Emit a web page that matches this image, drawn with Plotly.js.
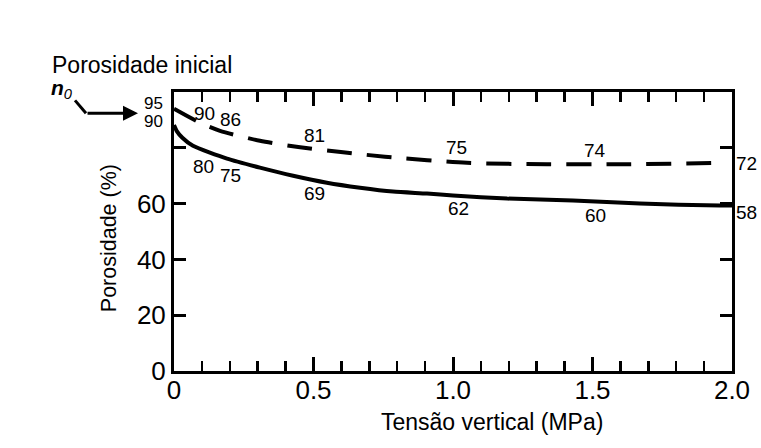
<!DOCTYPE html>
<html>
<head>
<meta charset="utf-8">
<script src="https://cdn.plot.ly/plotly-3.0.1.min.js"></script>
<style>html,body{margin:0;padding:0;background:#fff;}#chart{width:761px;height:448px;}</style>
</head>
<body>
<div id="chart"></div>
<script>
// Dashed curve (upper)
const dashedX = [0, 0.093, 0.165, 0.308, 0.452, 0.606, 0.756, 1.050, 1.337, 1.624, 1.957];
const dashedY = [94.0, 89.0, 86.1, 82.5, 80.2, 78.4, 76.8, 74.6, 74.1, 74.1, 74.6];
// Solid curve (lower)
const solidX = [0, 0.010, 0.030, 0.068, 0.190, 0.308, 0.427, 0.548, 0.667, 0.785, 0.907, 1.0, 1.194, 1.430, 1.670, 1.957, 2.0];
const solidY = [88.2, 86.0, 83.6, 80.7, 76.1, 72.9, 70.0, 67.5, 65.7, 64.3, 63.6, 62.9, 61.8, 61.1, 60.0, 59.3, 59.3];
// Value labels on curves (inside the plot)
const dashedLabels = ["90", "86", "81", "75", "74"];
const dashedLabelX = [0.111, 0.201, 0.505, 1.014, 1.509];
const dashedLabelY = [92.2, 90.1, 84.3, 80.0, 78.9];
const solidLabels = ["80", "75", "69", "62", "60"];
const solidLabelX = [0.104, 0.201, 0.505, 1.018, 1.509];
const solidLabelY = [73.2, 70.0, 63.6, 58.2, 55.7];
// Value labels outside the axes: start (left) and end (right) of each curve
const startLabels = ["95", "90"];
const startLabelY = [96.0, 89.6];
const endLabels = ["72", "58"];
const endLabelY = [74.3, 56.8];
// Ticks
const yTickVals = [0, 20, 40, 60, 80];
const yTickText = ["0", "20", "40", "60", ""];
const xTickVals = [0, 0.5, 1.0, 1.5, 2.0];
const xTickText = ["0", "0.5", "1.0", "1.5", "2.0"];

const FONT = "Liberation Sans, Arial, sans-serif";
const Y_MAX = 100;

const traces = [
  {x: dashedX, y: dashedY, mode: "lines", line: {color: "#000", width: 4, dash: "25px,15px", shape: "spline", smoothing: 0.7}, hoverinfo: "skip"},
  {x: solidX, y: solidY, mode: "lines", line: {color: "#000", width: 4, shape: "spline", smoothing: 0.6}, hoverinfo: "skip"}
];

const annotations = [];
function lbl(x, y, t, xref, yref, size) {
  annotations.push({x: x, y: y, xref: xref, yref: yref, text: t, showarrow: false,
    xanchor: "center", yanchor: "middle", font: {family: FONT, size: size, color: "#000"}});
}
dashedLabels.forEach((t, i) => lbl(dashedLabelX[i], dashedLabelY[i], t, "x", "y", 19));
solidLabels.forEach((t, i) => lbl(solidLabelX[i], solidLabelY[i], t, "x", "y", 19));
startLabels.forEach((t, i) => lbl(-0.036, startLabelY[i] / Y_MAX, t, "paper", "paper", 17));
endLabels.forEach((t, i) => lbl(1.026, endLabelY[i] / Y_MAX, t, "paper", "paper", 19));

annotations.push(
  {xref: "paper", yref: "paper", x: 0.570, y: -0.182, xanchor: "center", yanchor: "middle",
   text: "Tensão vertical (MPa)", showarrow: false, font: {family: FONT, size: 23, color: "#000"}},
  {xref: "paper", yref: "paper", x: -0.1165, y: 0.476, xanchor: "center", yanchor: "middle",
   text: "Porosidade (%)", textangle: -90, showarrow: false, font: {family: FONT, size: 21.5, color: "#000"}},
  {xref: "paper", yref: "paper", x: -0.057, y: 1.097, xanchor: "center", yanchor: "middle",
   text: "Porosidade inicial", showarrow: false, font: {family: FONT, size: 23, color: "#000"}},
  {xref: "paper", yref: "paper", x: -0.200, y: 1.012, xanchor: "center", yanchor: "middle",
   text: "<b><i>n</i></b><sub><i>0</i></sub>", showarrow: false, font: {family: FONT, size: 21, color: "#000"}},
  {xref: "paper", yref: "paper", x: -0.0645, y: 0.9237, text: "", showarrow: true, ax: -52, ay: 0,
   arrowhead: 2, arrowsize: 1, arrowwidth: 3, arrowcolor: "#000"}
);

const layout = {
  width: 761, height: 448,
  margin: {l: 174, r: 29, t: 92, b: 77},
  paper_bgcolor: "#fff", plot_bgcolor: "#fff",
  showlegend: false,
  font: {family: FONT, color: "#000"},
  xaxis: {
    range: [0, 2.0], tickvals: xTickVals, ticktext: xTickText,
    ticks: "inside", ticklen: 14, tickwidth: 3, tickcolor: "#000",
    minor: {dtick: 0.1, tick0: 0, ticks: "inside", ticklen: 10, tickwidth: 2.5, tickcolor: "#000"},
    showline: true, linecolor: "#000", linewidth: 3, mirror: "ticks",
    showgrid: false, zeroline: false, ticklabelstandoff: -6,
    tickfont: {family: FONT, size: 26, color: "#000"}
  },
  yaxis: {
    range: [0, Y_MAX], tickvals: yTickVals, ticktext: yTickText,
    ticks: "inside", ticklen: 12, tickwidth: 3, tickcolor: "#000",
    showline: true, linecolor: "#000", linewidth: 3, mirror: "ticks",
    showgrid: false, zeroline: false,
    tickfont: {family: FONT, size: 26, color: "#000"}
  },
  shapes: [
    {type: "line", xref: "paper", yref: "paper", x0: -0.1774, y0: 0.970, x1: -0.1577, y1: 0.9237,
     line: {color: "#000", width: 3}}
  ],
  annotations: annotations
};

Plotly.newPlot("chart", traces, layout, {staticPlot: true, displayModeBar: false});
</script>
</body>
</html>
